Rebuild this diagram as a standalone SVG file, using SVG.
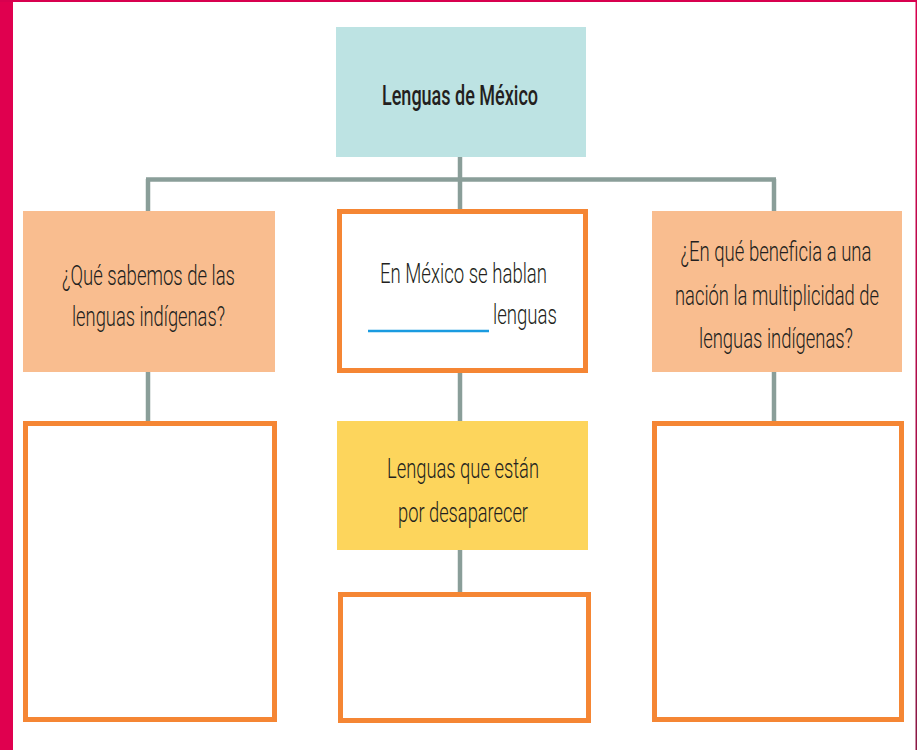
<svg xmlns="http://www.w3.org/2000/svg" width="917" height="750" viewBox="0 0 917 750">
<style>
.t{font-family:Roboto,"Liberation Sans",sans-serif;font-size:28px;font-weight:300;fill:#231F20;text-anchor:middle}
.b{font-weight:500}
.conn{stroke:#8A9E99;stroke-width:4.5;fill:none}
.ob{fill:#FFFFFF;stroke:#F58634;stroke-width:5}
</style>
<defs>
<linearGradient id="rg" x1="0" y1="0" x2="0" y2="1">
<stop offset="0" stop-color="#D8004F"/>
<stop offset="1" stop-color="#8A1845"/>
</linearGradient>
</defs>
<rect x="0" y="0" width="917" height="750" fill="#FFFFFF"/>
<g id="frame">
<rect x="0" y="0" width="13" height="750" fill="#E0004F"/>
<rect x="0" y="0" width="917" height="2" fill="#D8004F"/>
<rect x="915.5" y="0" width="1.5" height="750" fill="url(#rg)"/>
</g>
<g id="connectors">
<line class="conn" x1="146" y1="179.5" x2="776" y2="179.5" stroke-width="5"/>
<line class="conn" x1="460" y1="157" x2="460" y2="210"/>
<line class="conn" x1="148" y1="179" x2="148" y2="212"/>
<line class="conn" x1="774" y1="179" x2="774" y2="212"/>
<line class="conn" x1="148" y1="372" x2="148" y2="422"/>
<line class="conn" x1="774" y1="372" x2="774" y2="422"/>
<line class="conn" x1="460" y1="372" x2="460" y2="422"/>
<line class="conn" x1="460" y1="550" x2="460" y2="593"/>
</g>
<g id="root">
<rect x="336" y="27" width="250" height="130" fill="#BDE3E3"/>
<text class="t b" transform="translate(460,105) scale(0.75,1)" textLength="208" lengthAdjust="spacingAndGlyphs">Lenguas de México</text>
</g>
<g id="q1">
<rect x="23" y="211" width="252" height="161" fill="#F9BD8F"/>
<text class="t" transform="translate(148.5,285) scale(0.75,1)" textLength="230.7" lengthAdjust="spacingAndGlyphs">¿Qué sabemos de las</text>
<text class="t" transform="translate(148.5,326) scale(0.75,1)" textLength="204" lengthAdjust="spacingAndGlyphs">lenguas indígenas?</text>
</g>
<g id="hablan">
<rect class="ob" x="339.5" y="211.5" width="246" height="159"/>
<text class="t" transform="translate(463.5,283) scale(0.75,1)" textLength="222.7" lengthAdjust="spacingAndGlyphs">En México se hablan</text>
<line x1="368" y1="331" x2="489" y2="331" stroke="#1A9BE0" stroke-width="2.5"/>
<text class="t" transform="translate(525,324) scale(0.75,1)" textLength="85.3" lengthAdjust="spacingAndGlyphs">lenguas</text>
</g>
<g id="q2">
<rect x="652" y="211" width="250" height="161" fill="#F9BD8F"/>
<text class="t" transform="translate(776,261) scale(0.75,1)" textLength="254.7" lengthAdjust="spacingAndGlyphs">¿En qué beneficia a una</text>
<text class="t" transform="translate(777,305) scale(0.75,1)" textLength="272" lengthAdjust="spacingAndGlyphs">nación la multiplicidad de</text>
<text class="t" transform="translate(776,348) scale(0.75,1)" textLength="205.3" lengthAdjust="spacingAndGlyphs">lenguas indígenas?</text>
</g>
<g id="desaparecer">
<rect x="337" y="421" width="251" height="129" fill="#FDD55C"/>
<text class="t" transform="translate(463,478) scale(0.75,1)" textLength="202.7" lengthAdjust="spacingAndGlyphs">Lenguas que están</text>
<text class="t" transform="translate(463,522) scale(0.75,1)" textLength="173.3" lengthAdjust="spacingAndGlyphs">por desaparecer</text>
</g>
<g id="a1">
<rect class="ob" x="25.5" y="423.5" width="249" height="296"/>
</g>
<g id="a2">
<rect class="ob" x="340.5" y="594.5" width="248" height="126"/>
</g>
<g id="a3">
<rect class="ob" x="654.5" y="423.5" width="247" height="296"/>
</g>
</svg>
